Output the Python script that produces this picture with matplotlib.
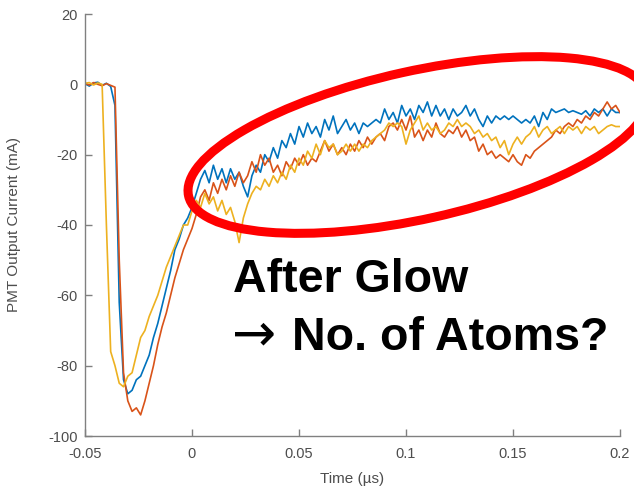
import numpy as np
import matplotlib
matplotlib.use("Agg")
import matplotlib.pyplot as plt
from matplotlib.patches import Ellipse

plt.rcParams['font.family'] = ['Liberation Sans', 'DejaVu Sans']
plt.rcParams['axes.unicode_minus'] = False

# time step of the traces (µs), starting at -0.05
t0 = -0.05
dt = 0.002

blue = [0.2, -0.5, 0.4, 0.6, -0.3, 0.3, -0.6,
        -6, -62, -84, -88, -87, -84, -83, -80, -77, -72, -68, -63, -58, -53,
        -47, -44, -40, -38, -35, -31, -27, -24.5, -28, -23, -27, -24, -28, -24,
        -27, -25, -29, -32, -26, -23, -25, -20, -22, -18, -21, -16, -18, -14,
        -17, -12, -15, -11, -14, -12, -15, -10, -13, -9, -14, -12, -10, -13,
        -11, -14, -11, -12, -11, -10, -11, -7, -10, -8, -11, -6, -9, -7, -10,
        -6, -8, -5, -9, -6, -9, -7, -10, -7, -9, -8, -6, -9, -7, -10, -12, -9,
        -11, -9, -10, -9, -10, -9, -10, -11, -10, -11, -9, -12, -8, -10, -7,
        -8, -7.5, -7, -8, -7.5, -8, -8.5, -7.5, -9, -7, -8, -7, -9, -7, -8, -8]

orange = [0.3, -0.2, 0.5, 0.0, -0.4, 0.2, -0.3, -0.8,
          -50, -82, -90, -93, -92, -94, -90, -85, -80, -74, -69, -65, -60,
          -55, -51, -47, -44, -41, -37, -32, -30, -33, -28, -31, -27, -30, -26,
          -29, -25, -28, -26, -22, -25, -20, -23, -21, -25, -23, -26, -22, -24,
          -21, -23, -20, -23, -21, -22, -19, -16, -19, -17, -20, -18, -20, -17,
          -19, -16, -18, -15, -17, -15, -14, -16, -12, -11, -13, -10, -13, -9,
          -15, -13, -16, -13, -15, -11, -14, -15, -13, -14, -12, -15, -13, -16,
          -15, -19, -17, -20, -19, -21, -20, -21, -22, -20, -22, -23, -20, -21,
          -19, -18, -17, -16, -15, -13, -14, -12, -11, -12, -10, -11, -9, -10,
          -8, -9, -7, -5, -7, -6, -8]

yellow = [0.3, 0.5, -0.2, 0.4, 0.0,
          -40, -76, -80, -85, -86, -83, -82, -77, -72, -70, -66, -63, -60, -56,
          -52, -49, -46, -43, -40, -40, -36, -33, -35, -31, -34, -32, -36, -33,
          -37, -35, -39, -45, -38, -34, -31, -29, -30, -27, -29, -26, -28, -25,
          -27, -23, -25, -21, -23, -19, -21, -17, -20, -16, -18, -17, -20, -19,
          -17, -19, -17, -19, -17, -18, -16, -15, -14, -13, -11, -12, -11, -12,
          -17, -13, -11, -9, -13, -11, -13, -12, -14, -13, -11, -12, -10, -12,
          -11, -12, -14, -13, -15, -14, -16, -15, -18, -16, -20, -17, -15, -17,
          -15, -14, -12, -15, -13, -12, -14, -13, -12, -14, -12, -13, -12, -14,
          -12, -13, -12, -14, -13, -12, -11.5, -12, -12]

x_ticks = [-0.05, 0, 0.05, 0.1, 0.15, 0.2]
x_ticklabels = ['-0.05', '0', '0.05', '0.1', '0.15', '0.2']
y_ticks = [-100, -80, -60, -40, -20, 0, 20]
y_ticklabels = ['-100', '-80', '-60', '-40', '-20', '0', '20']

colors = ['#0072BD', '#D95319', '#EDB120']

W, H = 634, 491
fig = plt.figure(figsize=(W / 100, H / 100), dpi=100)
ax = fig.add_axes([85 / W, 1 - 436 / H, (620 - 85) / W, (436 - 14) / H])

for series, c in zip([blue, orange, yellow], colors):
    t = t0 + dt * np.arange(len(series))
    ax.plot(t, series, color=c, lw=1.2)

ax.set_xlim(-0.05, 0.2)
ax.set_ylim(-100, 20)
ax.set_xticks(x_ticks)
ax.set_xticklabels(x_ticklabels)
ax.set_yticks(y_ticks)
ax.set_yticklabels(y_ticklabels)

for s in ['top', 'right']:
    ax.spines[s].set_visible(False)
for s in ['left', 'bottom']:
    ax.spines[s].set_color('#808080')
    ax.spines[s].set_linewidth(1.0)
ax.tick_params(direction='in', length=5, width=1.0, color='#808080',
               labelcolor='#4d4d4d', labelsize=10.5)
ax.tick_params(axis='x', pad=8)
ax.tick_params(axis='y', pad=5)
ax.set_xlabel('Time (\u00b5s)', fontsize=11, color='#4d4d4d', labelpad=8)
ax.set_ylabel('PMT Output Current (mA)', fontsize=11, color='#4d4d4d')
ax.yaxis.set_label_coords(-0.12, 0.5)

# red ellipse annotation (figure pixel coordinates)
ell = Ellipse((418, H - 145), width=470, height=148, angle=12.5,
              fill=False, edgecolor='#FF0000', linewidth=6.5,
              transform=None, clip_on=False, zorder=10)
fig.add_artist(ell)

fig.text(233 / W, 1 - 292 / H, 'After Glow', fontsize=33.5, fontweight='bold',
         color='black', va='baseline', ha='left')
fig.text(232 / W, 1 - 350 / H, '\u2192', fontsize=38, color='black',
         va='baseline', ha='left', family=['DejaVu Sans'])
fig.text(292 / W, 1 - 350 / H, 'No. of Atoms?', fontsize=33.5, fontweight='bold',
         color='black', va='baseline', ha='left')

fig.savefig('out.png', dpi=100)
